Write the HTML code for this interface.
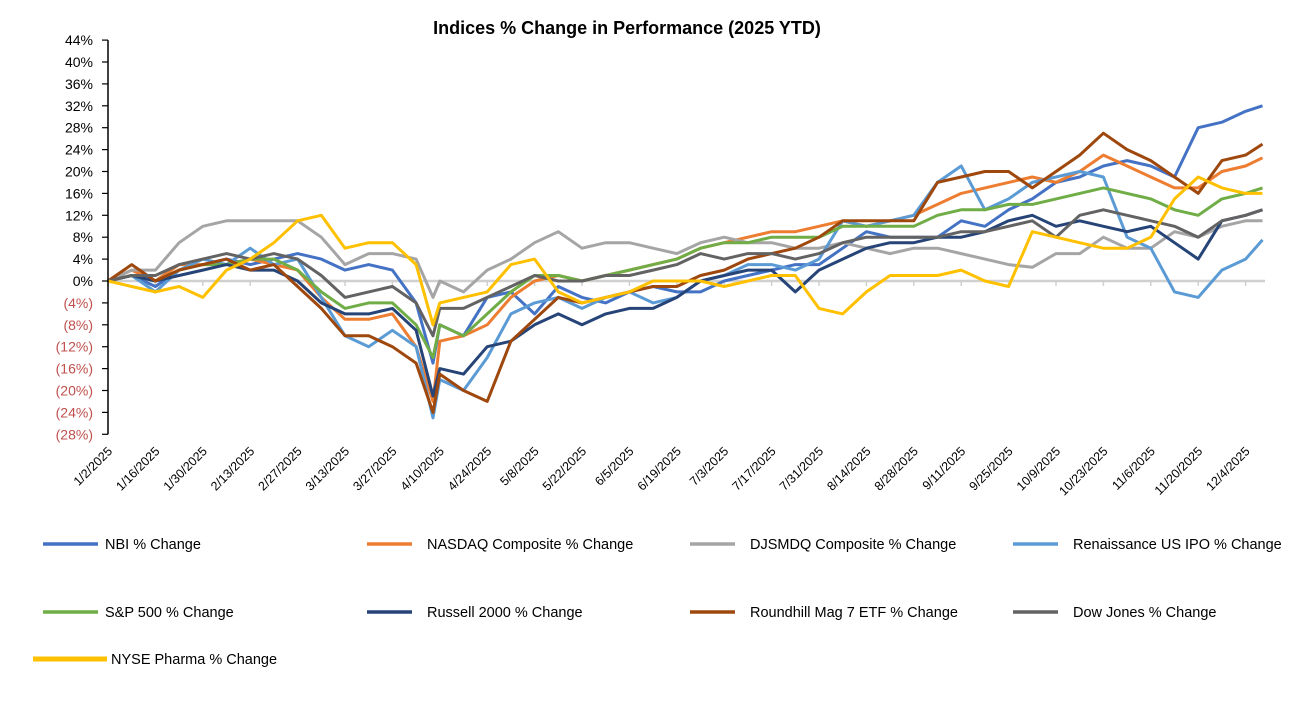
<!DOCTYPE html>
<html><head><meta charset="utf-8"><style>
body{margin:0;background:#fff;font-family:"Liberation Sans",Arial,sans-serif;}
svg{display:block}
</style></head><body>
<svg id="chart" width="1308" height="702" viewBox="0 0 1308 702">
<text x="627" y="34" text-anchor="middle" font-size="18" font-weight="bold" fill="#000">Indices % Change in Performance (2025 YTD)</text>
<g id="grid"></g><g id="lines"></g><g id="axes"></g><g id="legend"></g>
</svg>
<script>
const days=[0,7,14,21,28,35,42,49,56,63,70,77,84,91,96,98,105,112,119,126,133,140,147,154,161,168,175,182,189,196,203,210,217,224,231,238,245,252,259,266,273,280,287,294,301,308,315,322,329,336,341];
const tickLabels=["1/2/2025","1/16/2025","1/30/2025","2/13/2025","2/27/2025","3/13/2025","3/27/2025","4/10/2025","4/24/2025","5/8/2025","5/22/2025","6/5/2025","6/19/2025","7/3/2025","7/17/2025","7/31/2025","8/14/2025","8/28/2025","9/11/2025","9/25/2025","10/9/2025","10/23/2025","11/6/2025","11/20/2025","12/4/2025"];
const yTicks=[44,40,36,32,28,24,20,16,12,8,4,0,-4,-8,-12,-16,-20,-24,-28];
const seriesNames=["NBI % Change","NASDAQ Composite % Change","DJSMDQ Composite % Change","Renaissance US IPO % Change","S&P 500 % Change","Russell 2000 % Change","Roundhill Mag 7 ETF % Change","Dow Jones % Change","NYSE Pharma % Change"];
const nbi=[0,1,-1,2,3,4,3,4,5,4,2,3,2,-4,-15,-8,-10,-3,-2,-6,-1,-3,-4,-2,-1,-2,-2,0,1,2,3,3,6,9,8,8,8,11,10,13,15,18,19,21,22,21,19,28,29,31,32];
const nasdaq=[0,2,0,3,3,3,4,3,2,-3,-7,-7,-6,-12,-22,-11,-10,-8,-3,0,1,0,1,2,3,4,6,7,8,9,9,10,11,10,11,12,14,16,17,18,19,18,20,23,21,19,17,17,20,21,22.5];
const djsmdq=[0,2,2,7,10,11,11,11,11,8,3,5,5,4,-3,0,-2,2,4,7,9,6,7,7,6,5,7,8,7,7,6,6,7,6,5,6,6,5,4,3,2.5,5,5,8,6,6,9,8,10,11,11];
const ipo=[0,1,-2,2,4,3,6,3,4,-3,-10,-12,-9,-12,-25,-18,-20,-14,-6,-4,-3,-5,-3,-2,-4,-3,0,1,3,3,2,4,11,10,11,12,18,21,13,15,18,19,20,19,8,6,-2,-3,2,4,7.5];
const sp500=[0,1,0,2,3,3,4,4,2,-2,-5,-4,-4,-8,-14,-8,-10,-6,-2,1,1,0,1,2,3,4,6,7,7,8,8,8,10,10,10,10,12,13,13,14,14,15,16,17,16,15,13,12,15,16,17];
const russell=[0,1,0,1,2,3,2,2,0,-4,-6,-6,-5,-9,-21,-16,-17,-12,-11,-8,-6,-8,-6,-5,-5,-3,0,1,2,2,-2,2,4,6,7,7,8,8,9,11,12,10,11,10,9,10,7,4,11,12,13];
const mag7=[0,3,0,2,3,4,2,3,-1,-5,-10,-10,-12,-15,-24,-17,-20,-22,-11,-7,-3,-4,-3,-2,-1,-1,1,2,4,5,6,8,11,11,11,11,18,19,20,20,17,20,23,27,24,22,19,16,22,23,25];
const dow=[0,1,1,3,4,5,4,5,4,1,-3,-2,-1,-4,-10,-5,-5,-3,-1,1,0,0,1,1,2,3,5,4,5,5,4,5,7,8,8,8,8,9,9,10,11,8,12,13,12,11,10,8,11,12,13];
const pharma=[0,-1,-2,-1,-3,2,4,7,11,12,6,7,7,3,-8,-4,-3,-2,3,4,-2,-4,-3,-2,0,0,0,-1,0,1,1,-5,-6,-2,1,1,1,2,0,-1,9,8,7,6,6,8,15,19,17,16,16];
const allSeries=[nbi,nasdaq,djsmdq,ipo,sp500,russell,mag7,dow,pharma];
const colors=["#4472C4","#ED7D31","#A5A5A5","#5B9BD5","#70AD47","#264478","#9E480E","#636363","#FFC000"];
const NS="http://www.w3.org/2000/svg";
const X0=108, PX_PER_DAY=47.4/14, Y0=281, PX_PER_PCT=21.9/4;
function xs(d){return X0+d*PX_PER_DAY;}
function ys(v){return Y0-v*PX_PER_PCT;}
function mk(tag,attrs,parent){const e=document.createElementNS(NS,tag);for(const k in attrs)e.setAttribute(k,attrs[k]);parent.appendChild(e);return e;}
const axes=document.getElementById('axes'),lines=document.getElementById('lines'),grid=document.getElementById('grid'),legend=document.getElementById('legend');
const zl=mk('line',{x1:X0,x2:1265,y1:ys(0),y2:ys(0),stroke:'#d0d0d0','stroke-width':2.5},grid);


tickLabels.forEach((t,i)=>{const x=xs(i*14);
 const tk=mk('line',{x1:x,x2:x,y1:Y0,y2:Y0+5,stroke:'#d0d0d0','stroke-width':1.5},grid);
 
 
 const tx=mk('text',{x:x+5,y:452,'text-anchor':'end','font-size':12.5,fill:'#000',transform:`rotate(-45 ${x+5} 452)`},axes);
 tx.textContent=t;
 
 
});
const ya=mk('line',{x1:X0,x2:X0,y1:ys(44),y2:ys(-28),stroke:'#000','stroke-width':1.5},axes);


yTicks.forEach(v=>{const y=ys(v);
 const tk=mk('line',{x1:X0-6,x2:X0,y1:y,y2:y,stroke:'#000','stroke-width':1.2},axes);
 
 
 const tx=mk('text',{x:93,y:y+5,'text-anchor':'end','font-size':14,fill:v<0?'#C0504D':'#000'},axes);
 tx.textContent=v<0?'('+(-v)+'%)':v+'%';
 
 
});
allSeries.forEach((s,k)=>{
 const pts=s.map((v,i)=>xs(days[i]).toFixed(1)+','+ys(v).toFixed(1)).join(' ');
 const pl=mk('polyline',{points:pts,fill:'none',stroke:colors[k],'stroke-width':3,'stroke-linejoin':'round'},lines);
 
 
});
const legPos=[[43,98,105,544],[367,412,427,544],[690,735,750,544],[1013,1058,1073,544],[43,98,105,612],[367,412,427,612],[690,735,750,612],[1013,1058,1073,612],[33,107,111,659]];
seriesNames.forEach((n,k)=>{const p=legPos[k];
 const g=mk('g',{},legend);
 
 
 mk('line',{x1:p[0],x2:p[1],y1:p[3],y2:p[3],stroke:colors[k],'stroke-width':k==8?5:3.5},g);
 const t=mk('text',{x:p[2],y:p[3]+5,'font-size':14.5,fill:'#000'},g);
 t.textContent=n;
});
</script>
</body></html>
